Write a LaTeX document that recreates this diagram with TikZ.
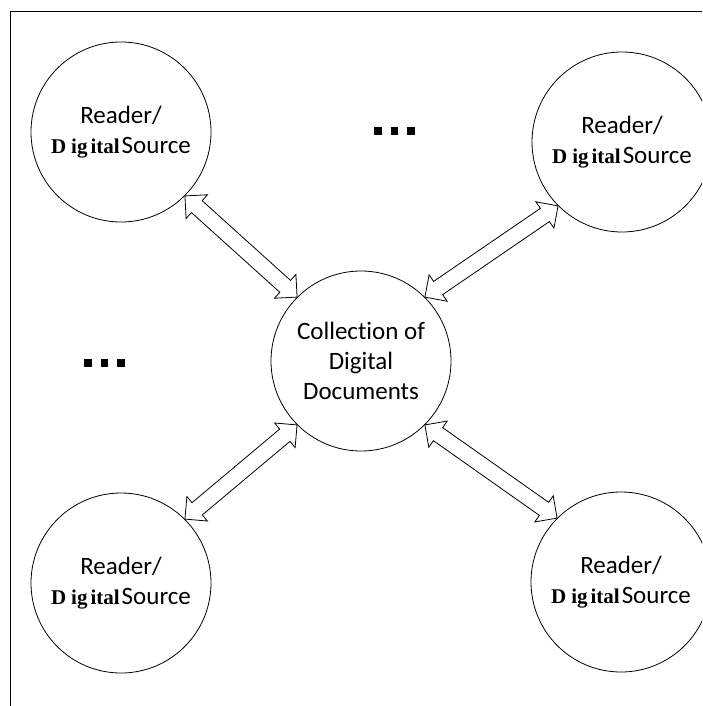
\documentclass[tikz,border=0pt]{standalone}
\usepackage{fontspec}
\setmainfont{Carlito}[Ligatures=NoCommon]
\newfontfamily\glyphfont{Liberation Serif}
\usetikzlibrary{calc}
\newcommand{\digsrc}{{\glyphfont\bfseries\fontsize{21}{30}\selectfont D\hspace{5pt}ig\hspace{3pt}ital}\hspace{2pt}Source}

\begin{document}
\begin{tikzpicture}[x=1pt, y=-1pt,
	party/.style={circle, draw, line width=0.8pt, minimum size=180pt, inner sep=0pt, align=center, font=\fontsize{25}{30}\selectfont},
	hollow/.style={draw, line width=0.8pt, line join=miter, fill=white}]
			\clip (0,0) rectangle (702,706);
			%frame
			\draw[line width=0.8pt] (702,11) -- (10.5,11) -- (10.5,706);
			%circles
			\node[party] (doc) at (361,361) {Collection of\\Digital\\Documents};
			\node[party] (tl) at (121,132) {Reader/\\\digsrc};
			\node[party] (tr) at (622,142) {Reader/\\\digsrc};
			\node[party] (bl) at (121,583) {Reader/\\\digsrc};
			\node[party] (br) at (621,582) {Reader/\\\digsrc};
			%double arrows
			\foreach \p/\q in {tl.-45/doc.135, tr.225/doc.45, bl.45/doc.225, br.135/doc.-45}{
				\coordinate (p) at (\p);
				\coordinate (q) at (\q);
				\draw[hollow] (p) -- ($(p)!16pt!(q)!16pt!90:(q)$) -- ($(p)!16pt!(q)!8pt!90:(q)$) -- ($(q)!16pt!(p)!8pt!-90:(p)$) -- ($(q)!16pt!(p)!16pt!-90:(p)$) -- (q) -- ($(q)!16pt!(p)!16pt!90:(p)$) -- ($(q)!16pt!(p)!8pt!90:(p)$) -- ($(p)!16pt!(q)!8pt!-90:(q)$) -- ($(p)!16pt!(q)!16pt!-90:(q)$) -- cycle;
			}
			%dots
			\foreach \i in {0,1,2}{
				\fill (374+16.7*\i,127) rectangle ++(7.5,7.5);
				\fill (84+16.7*\i,359) rectangle ++(7.5,7.5);
			}
		\end{tikzpicture}
\end{document}
